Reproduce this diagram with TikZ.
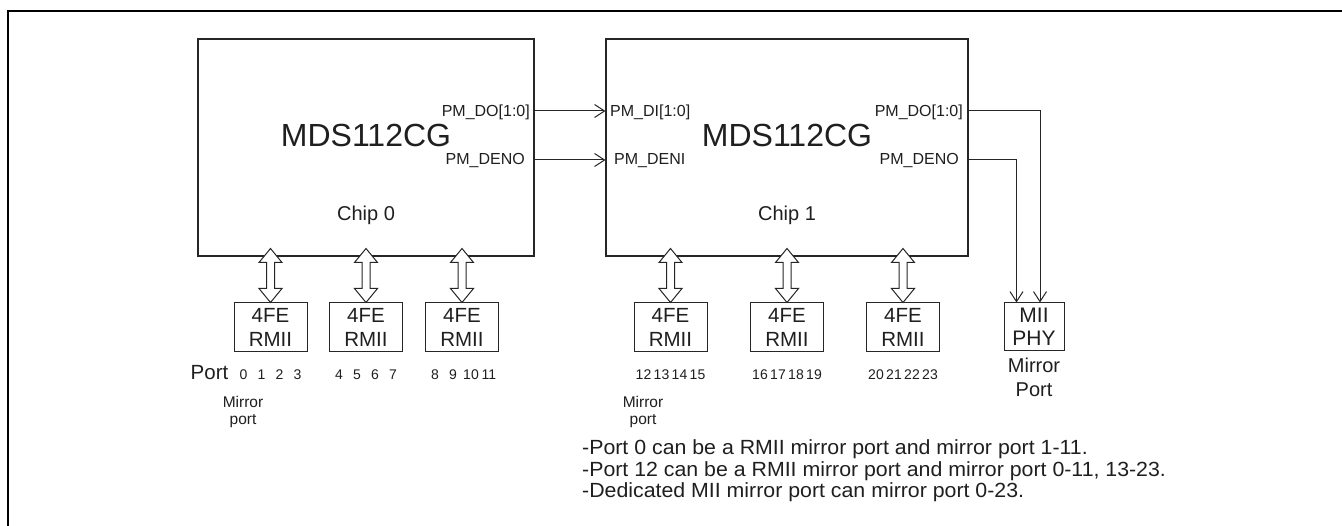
\documentclass[tikz,border=0pt]{standalone}
\usepackage{fontspec}
\setmainfont{Liberation Sans}
\newfontfamily\wideA[FakeStretch=1.04]{Liberation Sans}
\usetikzlibrary{arrows.meta,calc}
\newcommand{\fsz}[2]{\fontsize{#1}{#2}\selectfont}
\begin{document}
\begin{tikzpicture}[x=1pt,y=1pt,
  every node/.style={text=black!88},
  chip/.style={draw=black!85, line width=1.1pt, inner sep=0, minimum width=#1, minimum height=217},
  portbox/.style={draw=black!85, line width=1pt, inner sep=0, minimum width=73, minimum height=49, align=center, font=\fsz{20.5}{23.5}},
  miibox/.style={portbox, minimum width=60, minimum height=48, font=\fsz{21}{23.5}},
  big/.style={font=\fsz{32}{36}, inner sep=0, anchor=base},
  chiplbl/.style={font=\fsz{20}{24}, inner sep=0, anchor=base},
  pin/.style={font=\fsz{16}{18}, inner sep=0},
  num/.style={font=\fsz{14}{16}, inner sep=0, anchor=base},
  small/.style={font=\fsz{15.5}{17}, inner sep=0, anchor=base},
  note/.style={font=\wideA\fsz{20.5}{21}, inner sep=0, anchor=base west},
  sig/.style={draw=black!85, line width=1pt, -{Straight Barb[length=10pt,width=13pt,line width=1pt]}},
  dbl/.style={draw=black!85, line width=1pt, fill=white, line join=miter}
]
\useasboundingbox (0,0) rectangle (1342,-526);
\fill[white] (0,0) rectangle (1342,-526);
% frame
\draw[line width=2.5pt] (1342,-11) -- (8,-11) -- (8,-530);

% chips
\node[chip=336] (c0) at (366,-147.5) {};
\node[chip=362] (c1) at (787,-147.5) {};
\node[big] (c0t) at ($(c0.center)+(0,1)$) {MDS112CG};
\node[big] (c1t) at ($(c1.center)+(0,1)$) {MDS112CG};
\node[chiplbl] (c0n) at ($(c0.center)+(0,-73.5)$) {Chip 0};
\node[chiplbl] (c1n) at ($(c1.center)+(0,-73.5)$) {Chip 1};

% pin labels
\node[pin, anchor=base east] (p0do) at (530,-116.5) {PM\_DO[1:0]};
\node[pin, anchor=base east] (p0de) at (525,-165) {PM\_DENO};
\node[pin, anchor=base west] (p1di) at (610,-116.5) {PM\_DI[1:0]};
\node[pin, anchor=base west] (p1de) at (614,-165) {PM\_DENI};
\node[pin, anchor=base east] (p1do) at (963,-116.5) {PM\_DO[1:0]};
\node[pin, anchor=base east] (p1dn) at (959,-165) {PM\_DENO};

% port boxes
\node[portbox] (b1) at (270.5,-327.5) {4FE\\RMII};
\node[portbox] (b2) at (366,-327.5) {4FE\\RMII};
\node[portbox] (b3) at (462,-327.5) {4FE\\RMII};
\node[portbox] (b4) at (670.5,-327.5) {4FE\\RMII};
\node[portbox] (b5) at (787,-327.5) {4FE\\RMII};
\node[portbox] (b6) at (903,-327.5) {4FE\\RMII};
\node[miibox] (mii) at (1034,-327) {MII\\PHY};

% double arrows between chips and port boxes
\foreach \b in {b1,b2,b3,b4,b5,b6} {
  \draw[dbl] (\b.north) -- ++(-11.5,14) -- ++(7.5,0) -- ++(0,26) -- ++(-7.5,0)
    -- ++(11.5,14) -- ++(11.5,-14) -- ++(-7.5,0) -- ++(0,-26) -- ++(7.5,0) -- cycle;
}

% signal connectors
\coordinate (ya) at (0,-111);
\coordinate (yb) at (0,-160);
\coordinate (xa) at ($(mii.north)+(6,0)$);
\coordinate (xb) at ($(mii.north)+(-17.5,0)$);
\draw[sig] (c0.east |- ya) -- (c1.west |- ya);
\draw[sig] (c0.east |- yb) -- (c1.west |- yb);
\draw[sig] (c1.east |- ya) -| (xa);
\draw[sig] (c1.east |- yb) -| (xb);

% port numbers
\node[font=\fsz{20.5}{24}, inner sep=0, anchor=base east] (portlbl) at ($(b1.south west)+(-5,-27)$) {Port};
\foreach \b/\s in {b1/0,b2/4,b3/8,b4/12,b5/16,b6/20} {
  \foreach \k in {0,1,2,3} {
    \pgfmathtruncatemacro\n{\s+\k}
    \node[num] (\b-\k) at ($(\b.south)+(-27+18*\k,-27)$) {\n};
  }
}

% mirror port labels
\node[small] (m0a) at (243,-408) {Mirror};
\node[small] (m0b) at (243,-425) {port};
\node[small] (m1a) at (643,-408) {Mirror};
\node[small] (m1b) at (643,-425) {port};
\node[font=\fsz{20}{24}, inner sep=0, anchor=base] (m2a) at ($(mii.south)+(0,-21)$) {Mirror};
\node[font=\fsz{20}{24}, inner sep=0, anchor=base] (m2b) at ($(mii.south)+(0,-45)$) {Port};

% notes
\node[note] (n1) at (582,-455) {-Port 0 can be a RMII mirror port and mirror port 1-11.};
\node[note] (n2) at (582,-476) {-Port 12 can be a RMII mirror port and mirror port 0-11, 13-23.};
\node[note] (n3) at (582,-497) {-Dedicated MII mirror port can mirror port 0-23.};
\end{tikzpicture}
\end{document}
